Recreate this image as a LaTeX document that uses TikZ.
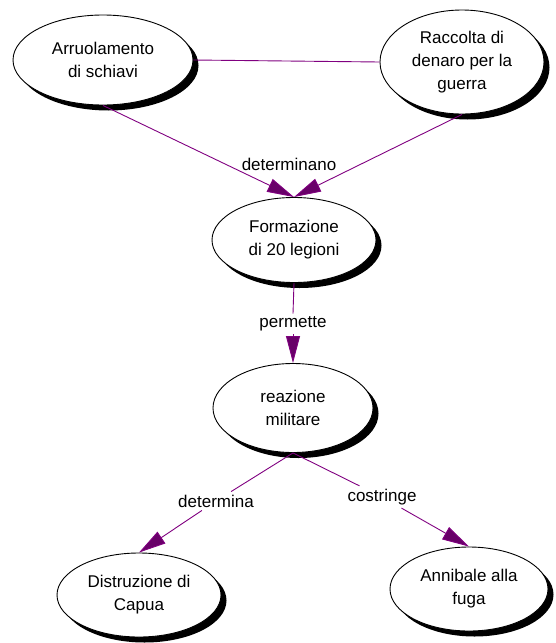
\documentclass[tikz,border=0pt]{standalone}
\usepackage{fontspec}
\setmainfont{Liberation Sans}
\usetikzlibrary{shapes.geometric,arrows.meta,shadows}
\definecolor{linkp}{RGB}{128,0,128}
\definecolor{tipp}{RGB}{105,0,105}
\begin{document}
\begin{tikzpicture}[x=1pt,y=-1pt,
  concept/.style={ellipse,draw=black,line width=0.9pt,fill=white,inner sep=0pt,
    align=center,font=\fontsize{17}{23}\selectfont,
    drop shadow={shadow xshift=5.5pt,shadow yshift=-5.5pt,fill=black,opacity=1}},
  linklabel/.style={fill=white,inner sep=3pt,font=\fontsize{17}{20}\selectfont},
  link/.style={draw=linkp,line width=0.9pt},
  arrowlink/.style={link,-{Triangle[length=27pt,width=14pt,fill=tipp]}}]
\useasboundingbox (0,0) rectangle (555,643);
\node[concept,minimum width=180pt,minimum height=90pt] (a) at (103,60) {Arruolamento\\di schiavi};
\node[concept,minimum width=164pt,minimum height=104pt] (b) at (462,62) {Raccolta di\\denaro per la\\guerra};
\node[concept,minimum width=164pt,minimum height=85pt] (f) at (294,240) {Formazione\\di 20 legioni};
\node[concept,minimum width=160pt,minimum height=89pt] (r) at (293,408) {reazione\\militare};
\node[concept,minimum width=164pt,minimum height=84pt] (d) at (139,595) {Distruzione di\\Capua};
\node[concept,minimum width=158pt,minimum height=84pt] (e) at (469,589) {Annibale alla\\fuga};

\node[linklabel,fill=none] (l1) at (289,164) {determinano};
\node[linklabel] (l2) at (293,324) {permette};
\node[linklabel] (l3) at (216,501) {determina};
\node[linklabel] (l4) at (382,497) {costringe};

\draw[link] (a.east) -- (b.west);
\draw[arrowlink] (a.south) -- (f.north);
\draw[arrowlink] (b.south) -- (f.north);
\draw[link] (f.south) -- (l2.north);
\draw[arrowlink] (l2.south) -- (r.north);
\draw[link] (r.south) -- (l3);
\draw[arrowlink] (l3) -- (d.north);
\draw[link] (r.south) -- (l4);
\draw[arrowlink] (l4) -- (e.north);
\end{tikzpicture}
\end{document}
